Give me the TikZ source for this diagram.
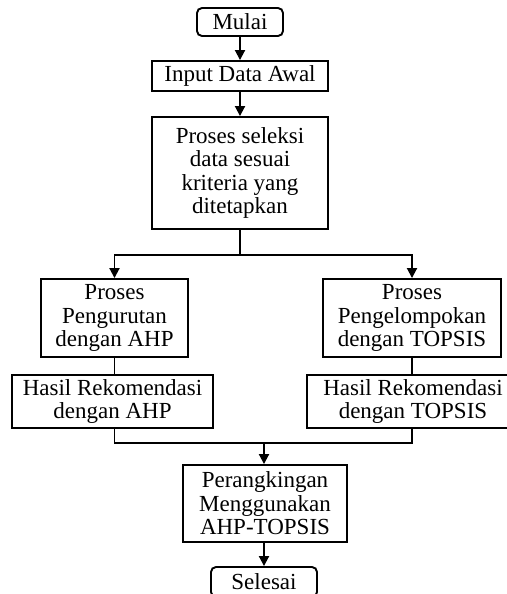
\documentclass[tikz,border=0pt]{standalone}
\usepackage{fontspec}
\setmainfont{Liberation Serif}
\usetikzlibrary{arrows.meta,positioning}
\tikzset{
  box/.style={draw,line width=1.9pt,align=center,inner sep=0pt,font=\fontsize{23}{23.5}\selectfont},
  term/.style={box,rounded corners=5pt},
  ln/.style={line width=1.9pt},
  arr/.style={-{Triangle[length=10pt,width=10pt]},line width=1.9pt},
}
\begin{document}
\begin{tikzpicture}[x=1pt,y=-1pt]
\useasboundingbox (0,0) rectangle (506,594);
\node[term,minimum width=86pt,minimum height=28pt] (mulai) at (240,22) {Mulai};
\node[box,minimum width=176pt,minimum height=30pt] (input) at (240,76) {Input Data Awal};
\node[box,minimum width=176pt,minimum height=112pt] (seleksi) at (240,173) {Proses seleksi\\data sesuai\\kriteria yang\\ditetapkan};
\node[box,minimum width=147pt,minimum height=78pt] (pahp) at (114.5,318) {Proses\\Pengurutan\\dengan AHP};
\node[box,minimum width=178pt,minimum height=78pt] (ptop) at (412,318) {Proses\\Pengelompokan\\dengan TOPSIS};
\node[box,minimum width=201pt,minimum height=53pt] (hahp) at (112.5,401.5) {Hasil Rekomendasi\\dengan AHP};
\node[box,minimum width=212pt,minimum height=53pt] (htop) at (413,401.5) {Hasil Rekomendasi\\dengan TOPSIS};
\node[box,minimum width=164pt,minimum height=77pt] (rank) at (265,503.5) {Perangkingan\\Menggunakan\\AHP-TOPSIS};
\node[term,minimum width=106pt,minimum height=30pt] (selesai) at (264,582) {Selesai};
\coordinate (split) at (240,255);
\coordinate (join) at (264,443);
% alur utama
\draw[arr] (mulai) -- (input);
\draw[arr] (input) -- (seleksi);
\draw[ln] (seleksi) -- (split);
\draw[arr] (split) -| (pahp);
\draw[arr] (split) -| (ptop);
\draw[ln] (pahp.south) -- (pahp.south |- hahp.north);
\draw[ln] (ptop.south) -- (ptop.south |- htop.north);
\draw[ln] (pahp.south |- hahp.south) |- (join);
\draw[ln] (ptop.south |- htop.south) |- (join);
\draw[arr] (join) -- (join |- rank.north);
\draw[arr] (rank.south -| selesai) -- (selesai);
\end{tikzpicture}
\end{document}
